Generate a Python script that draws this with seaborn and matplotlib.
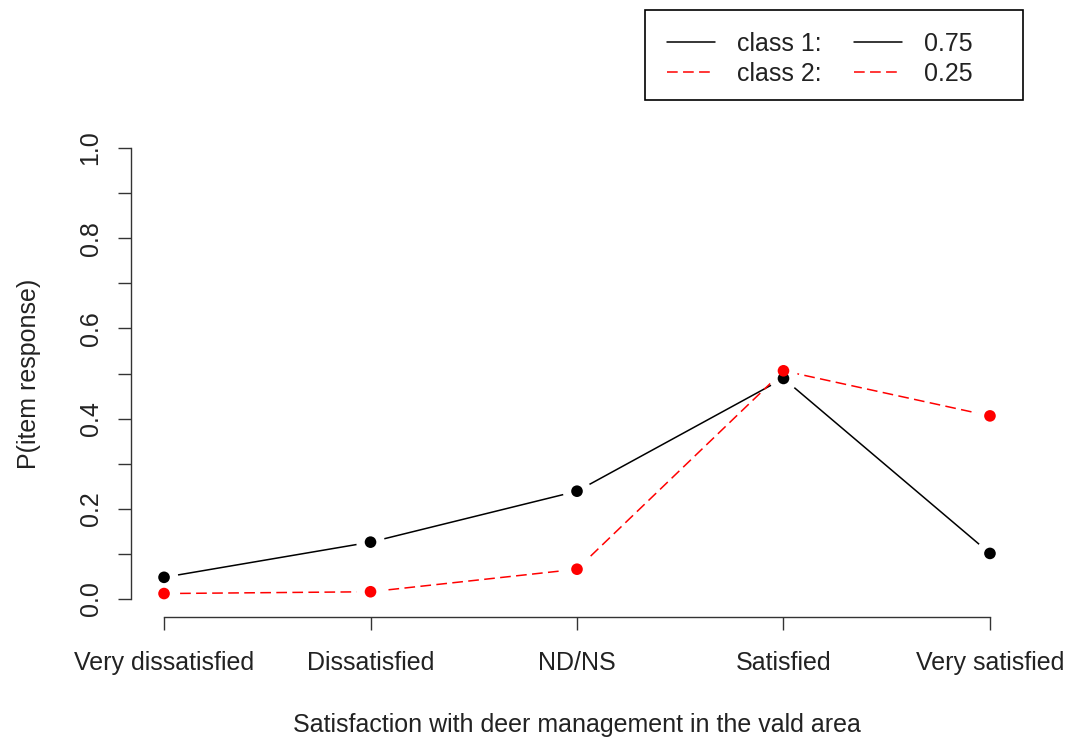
import numpy as np
import pandas as pd
import matplotlib
matplotlib.use("Agg")
import matplotlib.pyplot as plt
from matplotlib.lines import Line2D
from matplotlib.patches import Rectangle
import seaborn as sns

# Response categories and class-conditional response probabilities
categories = ["Very dissatisfied", "Dissatisfied", "ND/NS", "Satisfied", "Very satisfied"]
class1_probs = [0.048, 0.126, 0.239, 0.489, 0.101]
class2_probs = [0.012, 0.016, 0.066, 0.506, 0.406]
class_names = ["class 1:", "class 2:"]
class_shares = ["0.75", "0.25"]
y_ticks = [0.0, 0.2, 0.4, 0.6, 0.8, 1.0]

pos = np.arange(1, len(categories) + 1)
df = pd.DataFrame({
    "pos": np.concatenate([pos, pos]),
    "p": class1_probs + class2_probs,
    "cls": ["c1"] * len(pos) + ["c2"] * len(pos),
})

FS = 18
W, H = 1069, 744
sns.set_style("ticks")
plt.rcParams["font.family"] = ["Liberation Sans", "DejaVu Sans"]
plt.rcParams["font.size"] = FS

colors = {"c1": "black", "c2": "#FF0000"}
dash = (7, 3.5)

fig = plt.figure(figsize=(W / 100, H / 100), dpi=100)
ax = fig.add_axes([131 / W, 1 - 617 / H, (1023 - 131) / W, (617 - 130) / H])

# connecting lines
sns.lineplot(data=df, x="pos", y="p", hue="cls", style="cls",
             palette=colors, dashes={"c1": "", "c2": dash},
             linewidth=1.1, legend=False, ax=ax, zorder=1)
# white halos leave a gap between lines and points
sns.scatterplot(data=df, x="pos", y="p", color="white", s=420,
                edgecolor="none", legend=False, ax=ax, zorder=2)
# points
sns.scatterplot(data=df, x="pos", y="p", hue="cls", palette=colors, s=70,
                edgecolor="none", legend=False, ax=ax, zorder=3)

ax.set_xlim(0.84, 5.16)
ax.set_ylim(-0.04, 1.04)
ax.set_xticks(pos)
ax.set_xticklabels(categories)
ax.set_yticks(y_ticks)
ax.set_yticklabels([f"{v:.1f}" for v in y_ticks], rotation=90, va="center")
ax.set_yticks(np.arange(0.1, 1.0, 0.2), minor=True)
ax.tick_params(axis="both", which="both", length=9.5, width=1.0, color="#333333",
               labelsize=FS, labelcolor="#222222")
ax.tick_params(axis="x", pad=15)
ax.tick_params(axis="y", pad=11)

for s in ["top", "right"]:
    ax.spines[s].set_visible(False)
ax.spines["left"].set_bounds(0, 1)
ax.spines["bottom"].set_bounds(1, 5)
for s in ["left", "bottom"]:
    ax.spines[s].set_color("#333333")
    ax.spines[s].set_linewidth(1.0)

ax.set_xlabel("Satisfaction with deer management in the vald area", fontsize=FS,
              color="#222222", labelpad=27)
ax.set_ylabel("P(item response)", fontsize=FS, color="#222222", labelpad=27)

# legend: class names and class shares, boxed
handles = [
    Line2D([], [], color="black", lw=1.1),
    Line2D([], [], color="#FF0000", lw=1.1, dashes=dash),
    Line2D([], [], color="black", lw=1.1),
    Line2D([], [], color="#FF0000", lw=1.1, dashes=dash),
]
labels = class_names + class_shares
leg = fig.legend(handles, labels, ncol=2, loc="upper left",
                 bbox_to_anchor=(667 / W, 1 - 32 / H),
                 frameon=False, fontsize=FS,
                 handlelength=1.92, handletextpad=0.88, columnspacing=1.28,
                 labelspacing=0.24, borderpad=0, borderaxespad=0)
for t in leg.get_texts():
    t.set_color("#222222")
fig.add_artist(Rectangle((645 / W, 1 - 100 / H), (1023 - 645) / W, 90 / H,
                         transform=fig.transFigure, fill=False,
                         edgecolor="black", linewidth=1.2))

fig.savefig("out.png", dpi=100, facecolor="white")
